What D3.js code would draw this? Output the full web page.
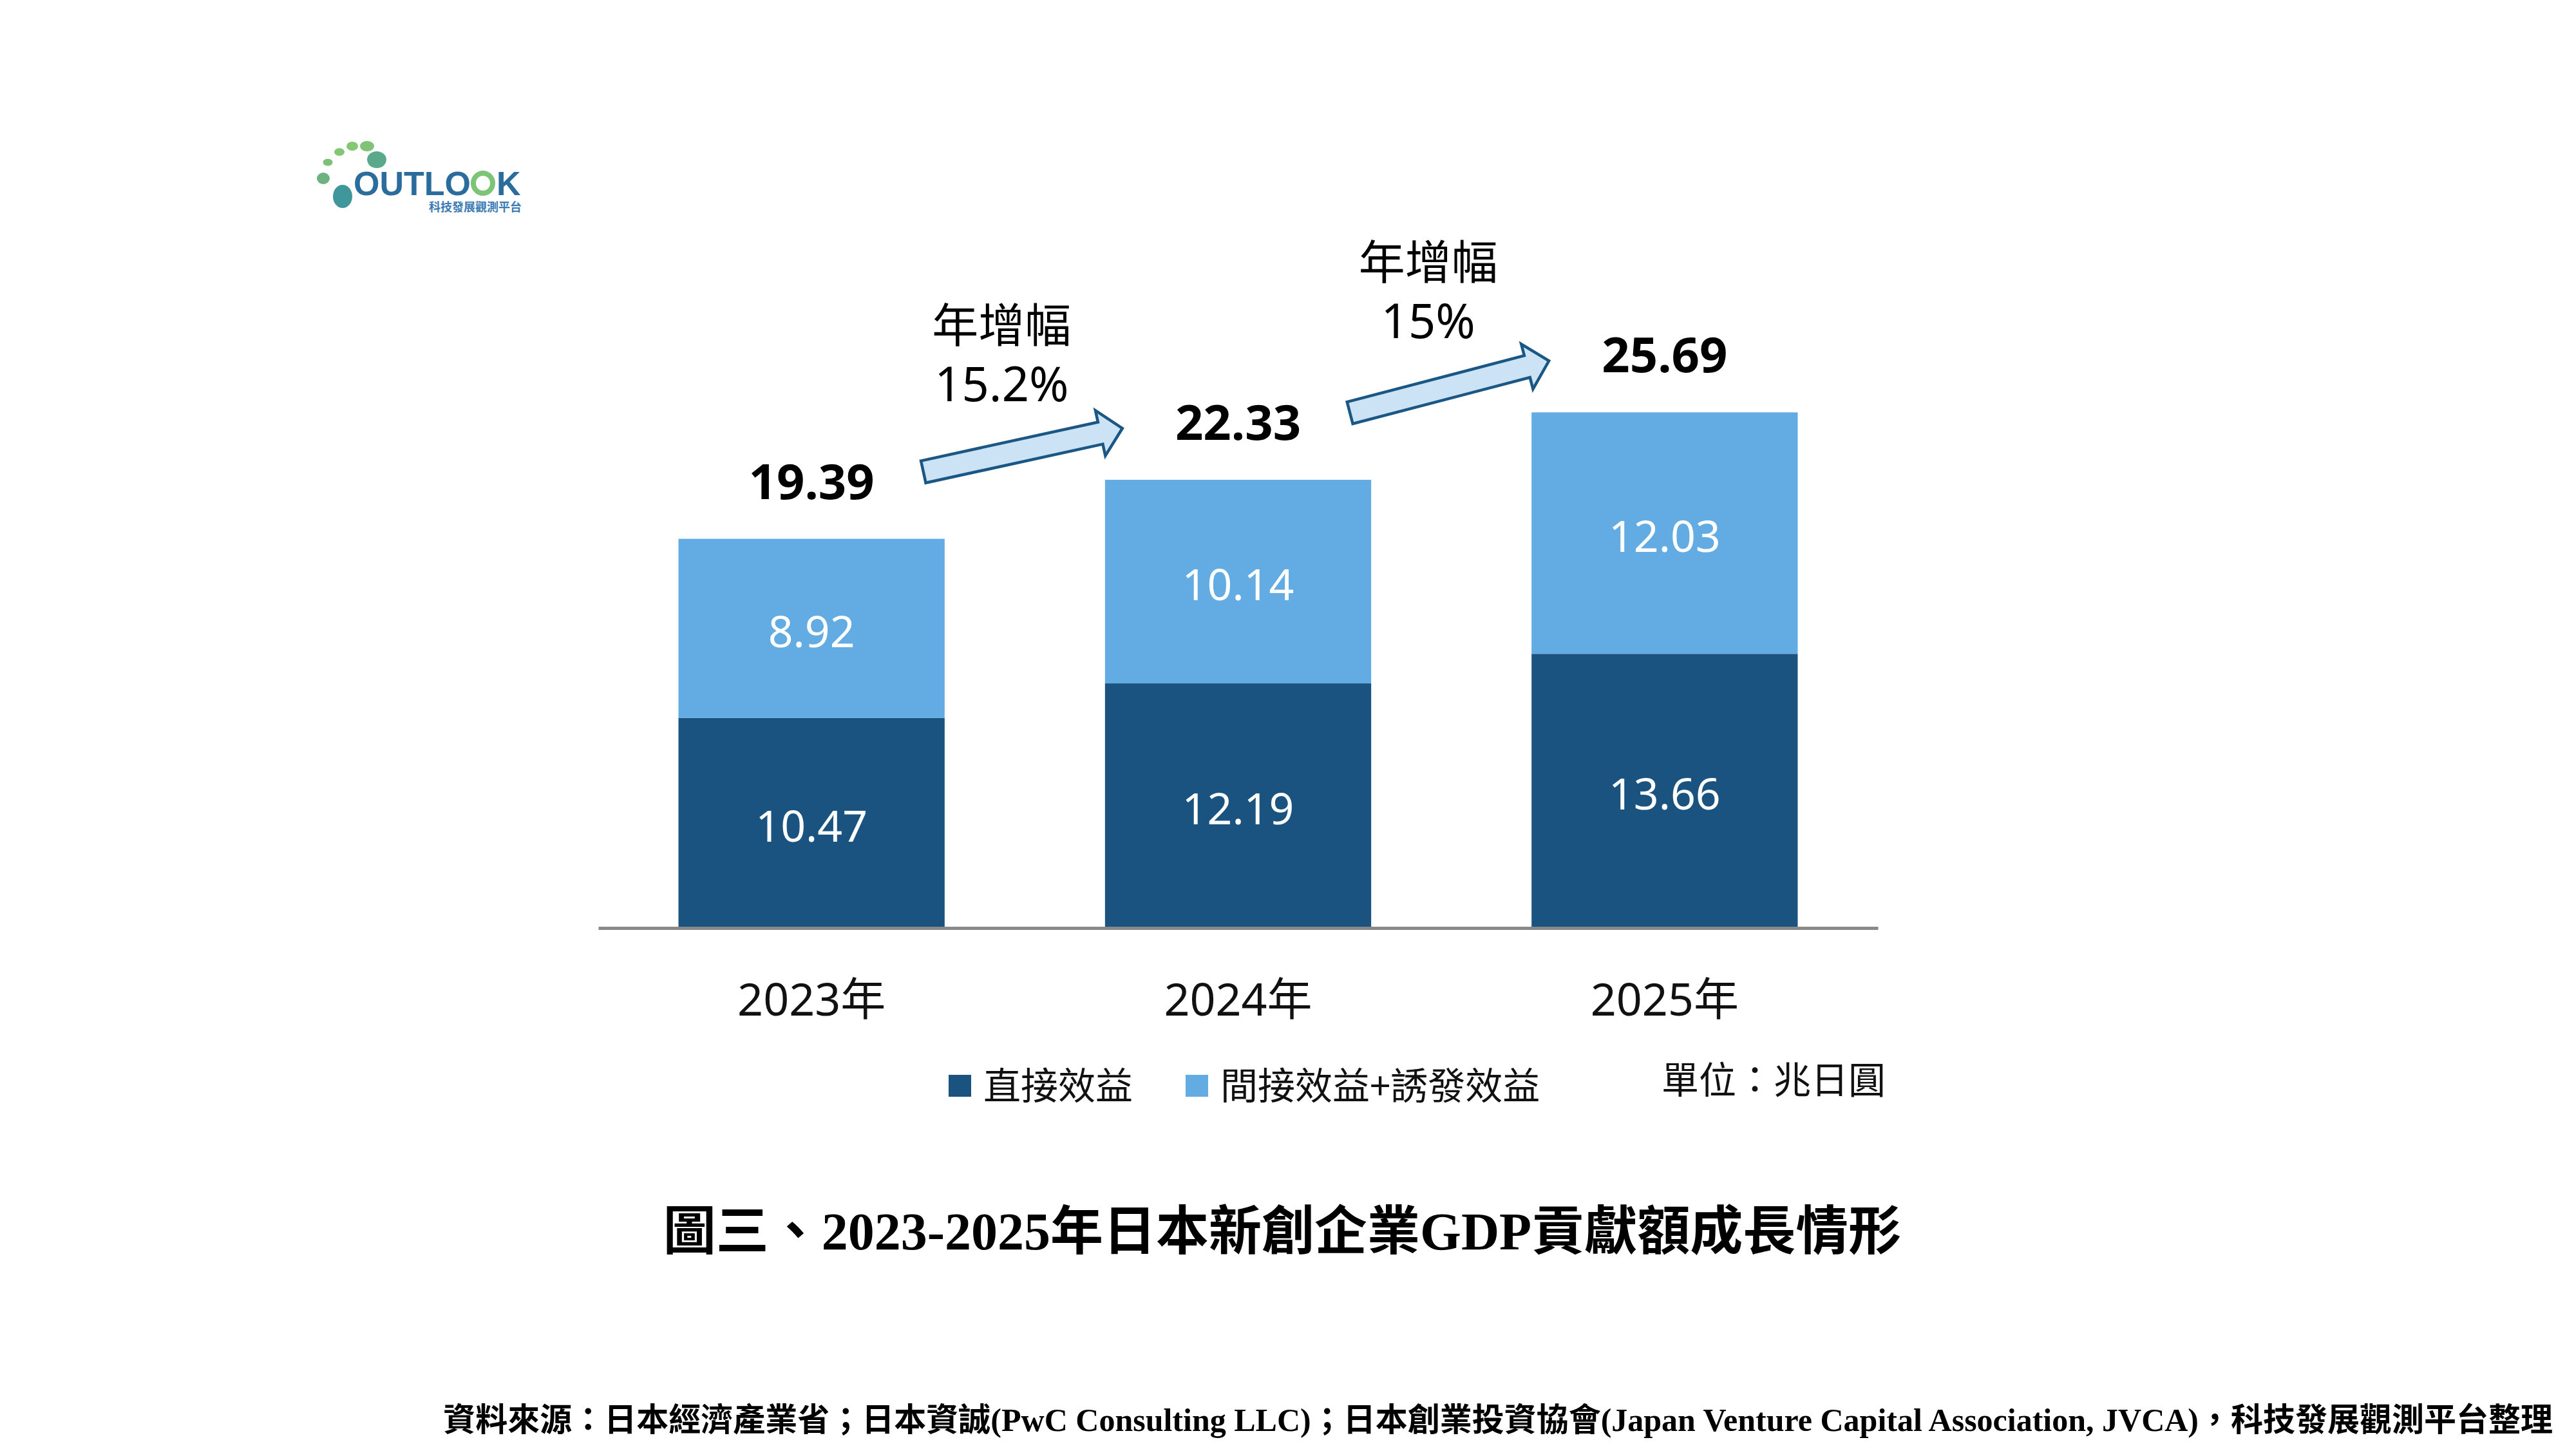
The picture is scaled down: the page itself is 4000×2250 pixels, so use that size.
<!DOCTYPE html>
<html>
<head>
<meta charset="utf-8">
<script src="https://cdn.jsdelivr.net/npm/d3@7"></script>
<style>
  body { margin: 0; background: #ffffff; }
  svg { display: block; }
</style>
</head>
<body>
<svg id="chart" width="4000" height="2250"></svg>
<script>
// chart values
let years = ["2023年", "2024年", "2025年"];
let direct = [10.47, 12.19, 13.66];
let indirect = [8.92, 10.14, 12.03];
let totals = [19.39, 22.33, 25.69];
let growthLabel = "年增幅";
let growth = ["15.2%", "15%"];
let seriesNames = ["直接效益", "間接效益+誘發效益"];
let unitText = "單位：兆日圓";
let titleText = "圖三、2023-2025年日本新創企業GDP貢獻額成長情形";
let sourceText = "資料來源：日本經濟產業省；日本資誠(PwC Consulting LLC)；日本創業投資協會(Japan Venture Capital Association, JVCA)，科技發展觀測平台整理";

let colors = ["#1a5380", "#62ace3"];
let fontMain = "'Noto Sans', 'Noto Sans CJK TC', sans-serif";
let fontCjk = "'Noto Sans CJK TC', 'Noto Sans', sans-serif";
let fontTitle = "'Liberation Serif', 'Noto Sans CJK TC', serif";

let svg = d3.select("#chart");

let margin = { left: 929, right: 1084, top: 506, bottom: 809 };
let plotRight = 4000 - margin.right;
let baseY = 2250 - margin.bottom;

let x = d3.scaleBand()
  .domain(years)
  .range([margin.left, plotRight])
  .paddingInner(0.376)
  .paddingOuter(0.188);

let y = d3.scaleLinear()
  .domain([0, 30])
  .range([baseY, margin.top]);

// stacked data
let rows = years.map(function(yr, i) {
  return { year: yr, direct: direct[i], indirect: indirect[i] };
});
let stack = d3.stack().keys(["direct", "indirect"]);
let layers = stack(rows);

let plot = svg.append("g").attr("id", "plot");

let layerG = plot.selectAll("g.layer")
  .data(layers)
  .enter().append("g")
  .attr("class", "layer")
  .attr("fill", function(d, i) { return colors[i]; });

layerG.selectAll("rect")
  .data(function(d) { return d; })
  .enter().append("rect")
  .attr("x", function(d) { return x(d.data.year); })
  .attr("width", x.bandwidth())
  .attr("y", function(d) { return y(d[1]); })
  .attr("height", function(d) { return y(d[0]) - y(d[1]); });

layerG.selectAll("text")
  .data(function(d) { return d; })
  .enter().append("text")
  .attr("x", function(d) { return x(d.data.year) + x.bandwidth() / 2; })
  .attr("y", function(d) { return (y(d[0]) + y(d[1])) / 2; })
  .attr("dy", "0.43em")
  .attr("text-anchor", "middle")
  .style("font-family", fontMain)
  .style("font-size", "68px")
  .attr("fill", "#ffffff")
  .text(function(d) { return (d[1] - d[0]).toFixed(2); });

// totals
plot.selectAll("text.total")
  .data(totals)
  .enter().append("text")
  .attr("class", "total")
  .attr("x", function(d, i) { return x(years[i]) + x.bandwidth() / 2; })
  .attr("y", function(d) { return y(d) - 62; })
  .attr("text-anchor", "middle")
  .style("font-family", fontMain)
  .style("font-size", "76px")
  .style("font-weight", "bold")
  .attr("fill", "#000000")
  .text(function(d) { return d.toFixed(2); });

// x axis
let xAxis = d3.axisBottom(x).tickSize(0).tickSizeOuter(0).tickPadding(86);
let xGroup = plot.append("g").attr("id", "x-axis")
  .attr("transform", "translate(0," + baseY + ")")
  .call(xAxis);
xGroup.select(".domain").attr("stroke", "#898989").attr("stroke-width", 5);
xGroup.selectAll(".tick text")
  .style("font-family", fontMain)
  .style("font-size", "70px")
  .attr("fill", "#111111");

// growth arrows
let arrowData = growth.map(function(g, i) {
  let tx = x(years[i]) + x.bandwidth() - 33;
  let ty = y(totals[i]) - 104;
  let hx = x(years[i + 1]) + 27;
  let hy = y(totals[i + 1]) - 80;
  return { label: g, tx: tx, ty: ty, hx: hx, hy: hy };
});

let arrowPath = function(len) {
  let sw = 17.5, hw = 36, hl = 35;
  return "M0," + (-sw) + "L" + (len - hl) + "," + (-sw) + "L" + (len - hl) + "," + (-hw) +
    "L" + len + ",0L" + (len - hl) + "," + hw + "L" + (len - hl) + "," + sw + "L0," + sw + "Z";
};

let arrows = plot.selectAll("g.arrow")
  .data(arrowData)
  .enter().append("g")
  .attr("class", "arrow");

arrows.append("path")
  .attr("transform", function(d) {
    let ang = Math.atan2(d.hy - d.ty, d.hx - d.tx) * 180 / Math.PI;
    return "translate(" + d.tx + "," + d.ty + ") rotate(" + ang + ")";
  })
  .attr("d", function(d) { return arrowPath(Math.hypot(d.hx - d.tx, d.hy - d.ty)); })
  .attr("fill", "#cce3f5")
  .attr("stroke", "#1b5785")
  .attr("stroke-width", 4.5)
  .attr("stroke-linejoin", "miter");

arrows.append("text")
  .attr("x", function(d) { return (d.tx + d.hx) / 2 - 33; })
  .attr("y", function(d) { return (d.ty + d.hy) / 2 - 168; })
  .attr("text-anchor", "middle")
  .style("font-family", fontCjk)
  .style("font-size", "72px")
  .attr("fill", "#000000")
  .text(growthLabel);

arrows.append("text")
  .attr("x", function(d) { return (d.tx + d.hx) / 2 - 33; })
  .attr("y", function(d) { return (d.ty + d.hy) / 2 - 76; })
  .attr("text-anchor", "middle")
  .style("font-family", fontMain)
  .style("font-size", "74px")
  .attr("fill", "#000000")
  .text(function(d) { return d.label; });

// legend
let legend = svg.append("g").attr("id", "legend").attr("transform", "translate(1473,1686)");
let lx = 0;
seriesNames.forEach(function(name, i) {
  let item = legend.append("g").attr("transform", "translate(" + lx + ",0)");
  item.append("rect")
    .attr("x", 0).attr("y", -17)
    .attr("width", 35).attr("height", 34)
    .attr("fill", colors[i]);
  let t = item.append("text")
    .attr("x", 54).attr("y", 0).attr("dy", "0.36em")
    .style("font-family", fontCjk)
    .style("font-size", "58px")
    .attr("fill", "#111111")
    .text(name);
  lx += 54 + t.node().getComputedTextLength() + 82;
});

svg.append("text")
  .attr("x", 2580).attr("y", 1677).attr("dy", "0.36em")
  .style("font-family", fontCjk)
  .style("font-size", "58px")
  .attr("fill", "#111111")
  .text(unitText);

// title and source
svg.append("text")
  .attr("x", 1991).attr("y", 1940)
  .attr("text-anchor", "middle")
  .style("font-family", fontTitle)
  .style("font-size", "82px")
  .style("font-weight", "bold")
  .attr("fill", "#000000")
  .text(titleText);

svg.append("text")
  .attr("x", 3964).attr("y", 2222)
  .attr("text-anchor", "end")
  .style("font-family", fontTitle)
  .style("font-size", "50px")
  .style("font-weight", "bold")
  .attr("fill", "#000000")
  .text(sourceText);

// logo
let logoDots = [
  [502, 277, 10, 9, "#6db27f"],
  [509, 252, 7.5, 5.5, "#7cc177"],
  [527, 236, 8, 6, "#84c674"],
  [547, 227, 9, 7, "#86c774"],
  [570, 227, 11, 8, "#80c377"],
  [585, 248, 15, 13, "#5aa98a"],
  [532, 305, 15, 18, "#3f979c"]
];
let logo = svg.append("g").attr("id", "logo");
logo.selectAll("ellipse")
  .data(logoDots)
  .enter().append("ellipse")
  .attr("cx", function(d) { return d[0]; })
  .attr("cy", function(d) { return d[1]; })
  .attr("rx", function(d) { return d[2]; })
  .attr("ry", function(d) { return d[3]; })
  .attr("fill", function(d) { return d[4]; });

let logoFont = "'Liberation Sans', Arial, sans-serif";
let logoA = logo.append("text")
  .attr("x", 549).attr("y", 303)
  .style("font-family", logoFont)
  .style("font-size", "52px")
  .style("font-weight", "bold")
  .attr("fill", "#2a6c9c")
  .text("OUTLO");
let wA = logoA.node().getComputedTextLength();
// green ring standing in for the second O
logo.append("ellipse")
  .attr("cx", 549 + wA + 19).attr("cy", 284.5)
  .attr("rx", 15).attr("ry", 15.5)
  .attr("fill", "none")
  .attr("stroke", "#7cc576")
  .attr("stroke-width", 8);
logo.append("text")
  .attr("x", 549 + wA + 40).attr("y", 303)
  .style("font-family", logoFont)
  .style("font-size", "52px")
  .style("font-weight", "bold")
  .attr("fill", "#2a6c9c")
  .text("K");

logo.append("text")
  .attr("x", 810).attr("y", 328)
  .attr("text-anchor", "end")
  .style("font-family", fontCjk)
  .style("font-size", "18px")
  .style("font-weight", "bold")
  .attr("fill", "#3c7ab5")
  .text("科技發展觀測平台");
</script>
</body>
</html>
